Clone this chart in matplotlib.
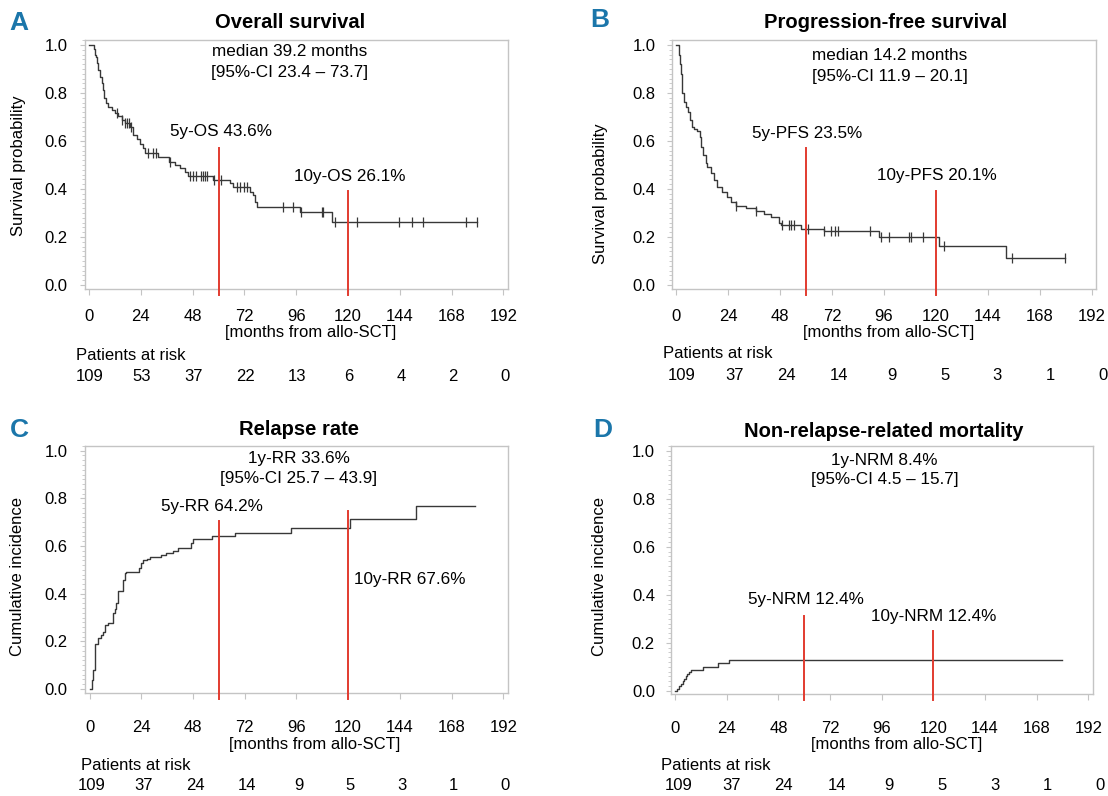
import matplotlib
matplotlib.use('Agg')
import matplotlib.pyplot as plt
import matplotlib.transforms as mtransforms
from matplotlib.ticker import MultipleLocator
import numpy as np

plt.rcParams['font.family'] = ['Liberation Sans', 'DejaVu Sans']

# ---- data ----
month_ticks = [0, 24, 48, 72, 96, 120, 144, 168, 192]

# A: overall survival (step times in months, survival after the step)
os_t = [0, 2.3, 2.8, 3.2, 3.9, 4.3, 5.1, 5.9, 6.3, 6.9, 7.9, 8.9, 10.5, 12.0, 13.6,
        15.1, 16.7, 19.0, 20.5, 22.1, 23.6, 24.9, 25.9, 32.1, 37.2, 39.8, 42.1, 44.5,
        46.0, 57.6, 65.3, 66.8, 74.6, 76.1, 76.9, 77.7, 97.9, 112.6]
os_s = [1.0, 0.985, 0.96, 0.951, 0.924, 0.896, 0.868, 0.840, 0.812, 0.778, 0.757, 0.743,
        0.729, 0.715, 0.704, 0.688, 0.674, 0.657, 0.625, 0.607, 0.588, 0.569, 0.551, 0.535,
        0.514, 0.500, 0.486, 0.472, 0.454, 0.436, 0.424, 0.410, 0.389, 0.375, 0.347, 0.326,
        0.304, 0.261]
os_end = 179.7
os_cens = [12.8, 15.2, 16.9, 17.7, 18.5, 19.3, 27.5, 29.5, 31.1, 37.3, 46.7, 48.3, 49.6,
           52.1, 52.9, 53.7, 54.5, 57.8, 61.1, 68.4, 70.1, 71.7, 73.3, 89.7, 94.6, 98.2,
           107.7, 108.2, 113.9, 124.1, 143.7, 149.5, 154.8, 174.5, 179.7]
os_risk = [109, 53, 37, 22, 13, 6, 4, 2, 0]

# B: progression-free survival
pfs_t = [0, 1.5, 1.9, 2.2, 2.6, 2.9, 3.7, 4.5, 5.5, 6.5, 7.5, 8.3, 9.8, 11.1, 11.7, 12.6,
         13.7, 14.2, 16.0, 17.5, 19.1, 21.4, 23.7, 25.2, 27.5, 32.2, 36.8, 40.6, 43.7,
         47.5, 48.3, 57.5, 68.4, 93.7, 121.4, 152.4]
pfs_s = [1.0, 0.96, 0.92, 0.88, 0.84, 0.80, 0.764, 0.743, 0.722, 0.688, 0.657, 0.649,
         0.643, 0.618, 0.576, 0.542, 0.507, 0.493, 0.465, 0.438, 0.410, 0.389, 0.368,
         0.347, 0.330, 0.319, 0.308, 0.296, 0.285, 0.260, 0.250, 0.235, 0.224, 0.201,
         0.162, 0.111]
pfs_end = 179.7
pfs_cens = [27.7, 37.0, 48.9, 52.2, 52.9, 54.3, 60.8, 68.4, 71.7, 73.3, 74.6, 89.7, 94.6,
            98.3, 107.6, 108.4, 114.1, 123.9, 154.9, 179.7]
pfs_risk = [109, 37, 24, 14, 9, 5, 3, 1, 0]

# C: relapse rate (cumulative incidence)
rr_t = [0, 1.2, 1.6, 2.4, 2.7, 3.9, 5.2, 6.3, 7.3, 8.6, 10.9, 11.7, 12.4, 13.2, 15.5,
        16.4, 17.1, 22.8, 23.7, 24.8, 26.5, 27.9, 33.0, 35.7, 38.7, 41.1, 47.0, 48.0,
        57.0, 67.7, 93.7, 120.8, 151.6]
rr_v = [0.0, 0.038, 0.080, 0.094, 0.190, 0.213, 0.227, 0.241, 0.269, 0.279, 0.318, 0.336,
        0.359, 0.410, 0.457, 0.485, 0.492, 0.506, 0.530, 0.541, 0.547, 0.553, 0.563,
        0.570, 0.580, 0.592, 0.612, 0.628, 0.642, 0.653, 0.676, 0.715, 0.767]
rr_end = 179.0
rr_risk = [109, 37, 24, 14, 9, 5, 3, 1, 0]

# D: non-relapse-related mortality (cumulative incidence)
nrm_t = [0, 1.0, 1.9, 2.5, 3.5, 4.1, 5.0, 5.6, 6.6, 7.2, 12.8, 20.0, 25.0]
nrm_v = [0.0, 0.008, 0.018, 0.029, 0.039, 0.050, 0.060, 0.071, 0.079, 0.088, 0.098,
         0.117, 0.127]
nrm_end = 179.8
nrm_risk = [109, 37, 24, 14, 9, 5, 3, 1, 0]

# ---- layout (pixels of the 1108x796 picture) ----
W, H = 1108, 796
BLUE = '#1b76aa'
RED = '#e23b2f'
CURVE = '#383838'
GREY = '#c4c4c4'

panels = [
    dict(letter='A', title='Overall survival', ylabel='Survival probability',
         t=os_t, v=os_s, end=os_end, cens=os_cens, risk=os_risk,
         box=(84.7, 40.2, 507.8, 288.6), xpad=11, ypad=9,
         lt=(19, 23), tt=(290, 23), yl=(19, 166), xl=(311, 333), pr=(76, 355), rn=376,
         rstep=(0.5, 24.0),
         notes=[('median 39.2 months', 93, 0.971), ('[95%-CI 23.4 \u2013 73.7]', 93, 0.887)],
         marks=[(60, 0.57, '5y-OS 43.6%', 61, 0.64), (120, 0.39, '10y-OS 26.1%', 121, 0.45)]),
    dict(letter='B', title='Progression-free survival', ylabel='Survival probability',
         t=pfs_t, v=pfs_s, end=pfs_end, cens=pfs_cens, risk=pfs_risk,
         box=(671.7, 40.2, 1096.3, 288.6), xpad=11, ypad=8,
         lt=(600, 20), tt=(886, 23), yl=(600, 194), xl=(889, 333), pr=(663, 353), rn=375,
         rstep=(2.5, 24.3),
         notes=[('median 14.2 months', 98.6, 0.958), ('[95%-CI 11.9 \u2013 20.1]', 98.6, 0.87)],
         marks=[(60, 0.57, '5y-PFS 23.5%', 60.3, 0.633), (120, 0.393, '10y-PFS 20.1%', 120.3, 0.458)]),
    dict(letter='C', title='Relapse rate', ylabel='Cumulative incidence',
         t=rr_t, v=rr_v, end=rr_end, cens=[], risk=rr_risk,
         box=(85.2, 445.9, 507.6, 692.6), xpad=16, ypad=9,
         lt=(19, 430), tt=(299, 430), yl=(18, 577), xl=(315, 745), pr=(81, 766), rn=786,
         rstep=(1.0, 24.0),
         notes=[('1y-RR 33.6%', 97, 0.969), ('[95%-CI 25.7 \u2013 43.9]', 97, 0.885)],
         marks=[(60, 0.706, '5y-RR 64.2%', 56.9, 0.767), (120, 0.746, '10y-RR 67.6%', 148.7, 0.459)]),
    dict(letter='D', title='Non-relapse-related mortality', ylabel='Cumulative incidence',
         t=nrm_t, v=nrm_v, end=nrm_end, cens=[], risk=nrm_risk,
         box=(670.9, 445.9, 1092.6, 694.3), xpad=15, ypad=8,
         lt=(603, 430), tt=(884, 431), yl=(600, 576), xl=(897, 745), pr=(661, 766), rn=786,
         rstep=(1.5, 24.5),
         notes=[('1y-NRM 8.4%', 97.2, 0.961), ('[95%-CI 4.5 \u2013 15.7]', 97.2, 0.878)],
         marks=[(60, 0.311, '5y-NRM 12.4%', 60.6, 0.378), (120, 0.248, '10y-NRM 12.4%', 120.3, 0.311)]),
]

fig = plt.figure(figsize=(W / 100, H / 100), dpi=100)

for p in panels:
    x0, y0, x1, y1 = p['box']
    ax = fig.add_axes([x0 / W, 1 - y1 / H, (x1 - x0) / W, (y1 - y0) / H])
    ax.set_xlim(-2, 194)
    ax.set_ylim(-0.015, 1.02)

    t = np.array(p['t'] + [p['end']])
    v = np.array(p['v'] + [p['v'][-1]])
    ax.step(t, v, where='post', color=CURVE, lw=1.0, zorder=3)
    if p['cens']:
        ct = np.array(p['cens'])
        cv = v[np.searchsorted(t, ct, side='right') - 1]
        cv[ct >= p['end']] = v[-1]
        ax.plot(ct, cv, ls='none', marker='|', ms=6.5, mew=0.9, color=CURVE, zorder=3)

    for xm, top, label, lx, ly in p['marks']:
        ax.plot([xm, xm], [-0.04, top], color=RED, lw=1.4, clip_on=False, zorder=4)
        ax.text(lx, ly, label, ha='center', va='center', fontsize=12.3)
    for txt, nx, ny in p['notes']:
        ax.text(nx, ny, txt, ha='center', va='center', fontsize=12.3)

    # light grey box, ticks hanging outside like base R
    for s in ax.spines.values():
        s.set_color(GREY)
        s.set_linewidth(1.0)
    ax.set_xticks(month_ticks)
    ax.set_yticks([0, 0.2, 0.4, 0.6, 0.8, 1.0])
    ax.set_yticklabels(['0.0', '0.2', '0.4', '0.6', '0.8', '1.0'])
    ax.yaxis.set_minor_locator(MultipleLocator(0.02))
    ax.tick_params(axis='x', length=4, width=0.8, color=GREY, pad=p['xpad'], labelsize=12)
    ax.tick_params(axis='y', which='major', length=3.5, width=0.8, color=GREY,
                   pad=p['ypad'], labelsize=12)
    ax.tick_params(axis='y', which='minor', length=2, width=0.6, color=GREY)

    fig.text(p['lt'][0] / W, 1 - p['lt'][1] / H, p['letter'], color=BLUE,
             fontsize=19, fontweight='bold', ha='center', va='center',
             family=['Liberation Sans Narrow', 'Liberation Sans', 'DejaVu Sans'])
    fig.text(p['tt'][0] / W, 1 - p['tt'][1] / H, p['title'], fontsize=14.5,
             fontweight='bold', ha='center', va='center')
    fig.text(p['yl'][0] / W, 1 - p['yl'][1] / H, p['ylabel'], fontsize=12,
             rotation=90, ha='center', va='center')
    fig.text(p['xl'][0] / W, 1 - p['xl'][1] / H, '[months from allo-SCT]', fontsize=12,
             ha='center', va='center')
    fig.text(p['pr'][0] / W, 1 - p['pr'][1] / H, 'Patients at risk', fontsize=12,
             ha='left', va='center')
    trans = mtransforms.blended_transform_factory(ax.transData, fig.transFigure)
    off, step = p['rstep']
    for k, n in enumerate(p['risk']):
        ax.text(off + step * k, 1 - p['rn'] / H, str(n), transform=trans, fontsize=12,
                ha='center', va='center', clip_on=False)

fig.savefig('out.png', dpi=100)
